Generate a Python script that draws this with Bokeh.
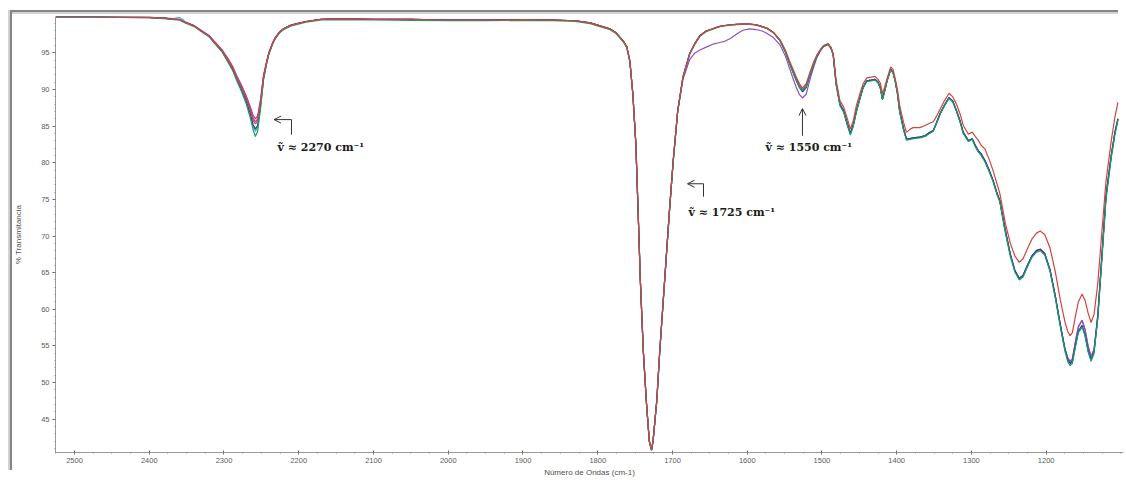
from bokeh.plotting import figure
from bokeh.layouts import column
from bokeh.models import Range1d, FixedTicker, Label, Arrow, OpenHead, InlineStyleSheet
from bokeh.embed import file_html
from bokeh.resources import INLINE

# Wavenumber grid (cm-1), shared by all spectra
wavenumber = [
    2525, 2480, 2440, 2400, 2380, 2367, 2360, 2352, 2340, 2331,
    2320, 2313, 2303, 2295, 2288, 2282, 2276, 2270, 2265, 2261,
    2258, 2255, 2251, 2247, 2243, 2240, 2235, 2231, 2225, 2220,
    2210, 2202, 2190, 2170, 2140, 2100, 2050, 2000, 1950, 1900,
    1860, 1830, 1810, 1797, 1784, 1776, 1770, 1765, 1761, 1757,
    1753, 1749, 1746, 1743, 1739, 1735, 1731, 1728, 1726, 1721,
    1717, 1712, 1708, 1704, 1699, 1693, 1686, 1677, 1670, 1663,
    1655, 1646, 1638, 1630, 1622, 1614, 1606, 1597, 1588, 1580,
    1574, 1565, 1556, 1549, 1543, 1538, 1534, 1530, 1526, 1521,
    1516, 1511, 1507, 1502, 1498, 1492, 1488, 1485, 1481, 1476,
    1471, 1466, 1462, 1458, 1454, 1449, 1445, 1440, 1434, 1429,
    1425, 1422, 1419, 1416, 1413, 1408, 1405, 1402, 1399, 1396,
    1391, 1387, 1382, 1378, 1369, 1362, 1356, 1351, 1347, 1342,
    1336, 1330, 1325, 1320, 1315, 1311, 1304, 1299, 1295, 1291,
    1287, 1282, 1276, 1271, 1266, 1262, 1255, 1248, 1242, 1236,
    1231, 1225, 1219, 1213, 1208, 1202, 1195, 1188, 1181, 1175,
    1171, 1168, 1165, 1161, 1157, 1152, 1148, 1144, 1140, 1136,
    1131, 1126, 1120, 1113, 1108, 1104,
]

# % transmittance of each sample
t_cyan = [
    99.95, 99.95, 99.9, 99.85, 99.8, 99.7, 99.9, 99.3, 98.7, 98.05,
    97.3, 96.45, 95.3, 93.95, 92.7, 91.1, 89.8, 88.2, 86.5, 84.9,
    84.3, 84.8, 87.7, 91.5, 93.6, 94.9, 96.3, 97.1, 97.9, 98.3,
    98.8, 99.0, 99.3, 99.6, 99.65, 99.6, 99.6, 99.5, 99.5, 99.55,
    99.5, 99.4, 99.1, 98.7, 98.3, 97.8, 97.1, 96.5, 95.8, 93.9,
    89.4, 82.6, 73.5, 64.0, 54.3, 47.5, 42.0, 40.8, 42.0, 47.5,
    54.3, 61.7, 67.6, 73.5, 80.3, 87.1, 91.7, 94.9, 96.3, 97.4,
    98.0, 98.3, 98.6, 98.75, 98.85, 98.9, 98.95, 98.95, 98.85, 98.6,
    98.4, 97.8, 96.7, 95.2, 93.5, 92.2, 91.2, 90.3, 89.7, 90.3,
    92.0, 93.5, 94.5, 95.4, 95.9, 96.2, 95.7, 94.8, 90.8, 88.0,
    87.1, 85.3, 84.0, 85.2, 87.1, 88.9, 90.3, 91.2, 91.3, 91.4,
    91.0, 90.3, 88.7, 89.9, 91.2, 92.8, 92.4, 91.2, 89.5, 87.1,
    84.7, 83.25, 83.3, 83.4, 83.5, 83.7, 84.15, 84.4, 85.4, 86.7,
    87.9, 88.9, 88.4, 87.1, 85.6, 84.15, 83.0, 83.3, 82.4, 81.65,
    81.2, 80.3, 78.9, 77.55, 75.9, 74.8, 70.9, 67.5, 65.3, 64.2,
    64.6, 66.0, 67.3, 68.0, 68.2, 67.6, 65.4, 61.9, 57.8, 54.6,
    53.1, 52.6, 52.9, 55.0, 57.0, 57.8, 56.5, 54.4, 53.1, 54.2,
    59.0, 66.5, 75.5, 81.0, 84.2, 86.0,
]

t_magenta = [
    99.95, 99.95, 99.9, 99.85, 99.75, 99.6, 99.55, 99.2, 98.75, 98.15,
    97.4, 96.6, 95.5, 94.3, 93.1, 91.7, 90.5, 89.1, 87.7, 86.5,
    86.0, 86.4, 88.7, 92.0, 93.8, 95.0, 96.4, 97.2, 97.95, 98.35,
    98.8, 99.0, 99.3, 99.6, 99.65, 99.6, 99.6, 99.5, 99.5, 99.55,
    99.5, 99.4, 99.1, 98.7, 98.3, 97.8, 97.1, 96.5, 95.8, 93.9,
    89.4, 82.6, 73.5, 64.0, 54.3, 47.5, 42.0, 40.8, 42.0, 47.5,
    54.3, 61.7, 67.6, 73.5, 80.3, 87.1, 91.7, 94.9, 96.3, 97.4,
    98.0, 98.3, 98.6, 98.75, 98.85, 98.9, 98.95, 98.95, 98.85, 98.6,
    98.4, 97.8, 96.7, 95.2, 93.6, 92.4, 91.4, 90.5, 90.0, 90.6,
    92.0, 93.5, 94.5, 95.4, 95.9, 96.2, 95.7, 94.8, 90.8, 88.0,
    87.1, 85.3, 84.0, 85.2, 87.1, 88.9, 90.3, 91.2, 91.3, 91.4,
    91.0, 90.3, 88.7, 89.9, 91.2, 92.8, 92.4, 91.2, 89.5, 87.1,
    84.7, 83.25, 83.3, 83.4, 83.5, 83.7, 84.15, 84.4, 85.4, 86.7,
    87.9, 88.9, 88.4, 87.1, 85.6, 84.15, 83.0, 83.3, 82.4, 81.65,
    81.2, 80.3, 78.9, 77.55, 75.9, 74.8, 70.9, 67.5, 65.3, 64.2,
    64.6, 66.0, 67.3, 68.0, 68.2, 67.6, 65.4, 61.9, 57.8, 54.6,
    53.3, 52.9, 53.2, 55.5, 57.6, 58.5, 57.2, 55.0, 53.5, 54.5,
    59.3, 66.6, 75.5, 81.0, 84.2, 86.0,
]

t_purple = [
    99.95, 99.95, 99.9, 99.85, 99.75, 99.6, 99.6, 99.2, 98.7, 98.05,
    97.35, 96.5, 95.4, 94.1, 92.9, 91.5, 90.3, 88.9, 87.4, 86.1,
    85.6, 86.0, 88.5, 91.9, 93.7, 95.0, 96.3, 97.1, 97.9, 98.3,
    98.8, 99.0, 99.3, 99.6, 99.65, 99.6, 99.6, 99.5, 99.5, 99.55,
    99.5, 99.4, 99.1, 98.7, 98.3, 97.8, 97.1, 96.5, 95.8, 93.9,
    89.4, 82.6, 73.5, 64.0, 54.3, 47.5, 42.0, 40.8, 42.0, 47.5,
    54.3, 61.7, 67.6, 73.5, 80.3, 87.0, 91.4, 94.1, 95.0, 95.4,
    95.8, 96.2, 96.4, 96.6, 97.0, 97.6, 98.1, 98.3, 98.2, 98.0,
    97.7, 97.1, 96.1, 94.6, 92.8, 91.3, 90.2, 89.3, 88.85, 89.4,
    91.4, 93.1, 94.3, 95.3, 95.9, 96.2, 95.7, 94.8, 90.8, 88.0,
    87.1, 85.3, 84.0, 85.2, 87.1, 88.9, 90.3, 91.2, 91.3, 91.4,
    91.0, 90.3, 88.7, 89.9, 91.2, 92.8, 92.4, 91.2, 89.5, 87.1,
    84.7, 83.25, 83.3, 83.4, 83.5, 83.7, 84.15, 84.4, 85.4, 86.7,
    87.9, 88.9, 88.4, 87.1, 85.6, 84.15, 83.0, 83.3, 82.4, 81.65,
    81.2, 80.3, 78.9, 77.55, 75.9, 74.8, 70.9, 67.5, 65.3, 64.2,
    64.6, 66.0, 67.3, 68.0, 68.2, 67.6, 65.4, 61.9, 57.8, 54.6,
    53.3, 52.9, 53.2, 55.5, 57.6, 58.5, 57.2, 55.0, 53.5, 54.5,
    59.0, 66.5, 75.5, 81.0, 84.2, 86.0,
]

t_navy = [
    99.95, 99.95, 99.9, 99.85, 99.75, 99.6, 99.6, 99.2, 98.7, 98.05,
    97.3, 96.45, 95.3, 93.95, 92.7, 91.2, 89.9, 88.4, 86.8, 85.2,
    84.6, 85.1, 87.9, 91.6, 93.6, 94.9, 96.3, 97.1, 97.9, 98.3,
    98.8, 99.0, 99.3, 99.6, 99.65, 99.6, 99.6, 99.5, 99.5, 99.55,
    99.5, 99.4, 99.1, 98.7, 98.3, 97.8, 97.1, 96.5, 95.8, 93.9,
    89.4, 82.6, 73.5, 64.0, 54.3, 47.5, 42.0, 40.8, 42.0, 47.5,
    54.3, 61.7, 67.6, 73.5, 80.3, 87.1, 91.7, 94.9, 96.3, 97.4,
    98.0, 98.3, 98.6, 98.75, 98.85, 98.9, 98.95, 98.95, 98.85, 98.6,
    98.4, 97.8, 96.7, 95.2, 93.5, 92.2, 91.2, 90.3, 89.7, 90.3,
    92.0, 93.5, 94.5, 95.4, 95.9, 96.2, 95.7, 94.8, 90.8, 88.0,
    87.1, 85.3, 84.0, 85.2, 87.1, 88.9, 90.3, 91.2, 91.3, 91.4,
    91.0, 90.3, 88.7, 89.9, 91.2, 92.8, 92.4, 91.2, 89.5, 87.1,
    84.7, 83.25, 83.3, 83.4, 83.5, 83.7, 84.15, 84.4, 85.4, 86.7,
    87.9, 88.9, 88.4, 87.1, 85.6, 84.15, 83.0, 83.3, 82.4, 81.65,
    81.2, 80.3, 78.9, 77.55, 75.9, 74.8, 70.9, 67.5, 65.3, 64.2,
    64.6, 66.0, 67.3, 68.0, 68.2, 67.6, 65.4, 61.9, 57.8, 54.6,
    53.1, 52.6, 52.9, 55.0, 57.0, 57.8, 56.5, 54.4, 53.1, 54.2,
    59.0, 66.5, 75.5, 81.0, 84.2, 86.0,
]

t_green = [
    99.9, 99.9, 99.85, 99.8, 99.7, 99.55, 99.5, 99.1, 98.6, 97.95,
    97.2, 96.35, 95.2, 93.8, 92.5, 91.0, 89.6, 88.0, 86.2, 84.5,
    83.6, 84.3, 87.5, 91.4, 93.5, 94.8, 96.2, 97.0, 97.8, 98.2,
    98.7, 98.9, 99.2, 99.5, 99.55, 99.5, 99.45, 99.4, 99.4, 99.45,
    99.4, 99.3, 99.0, 98.6, 98.2, 97.7, 97.0, 96.4, 95.7, 93.8,
    89.3, 82.5, 73.4, 63.9, 54.2, 47.4, 41.9, 40.7, 41.9, 47.4,
    54.2, 61.6, 67.5, 73.4, 80.2, 87.0, 91.6, 94.8, 96.2, 97.3,
    97.9, 98.25, 98.55, 98.7, 98.8, 98.85, 98.9, 98.9, 98.8, 98.55,
    98.35, 97.75, 96.65, 95.15, 93.45, 92.15, 91.15, 90.3, 89.9, 90.4,
    92.0, 93.5, 94.5, 95.4, 95.9, 96.15, 95.65, 94.7, 90.6, 87.8,
    86.9, 85.1, 83.8, 85.0, 86.9, 88.8, 90.2, 91.1, 91.2, 91.3,
    90.9, 90.2, 88.6, 89.8, 91.1, 92.7, 92.3, 91.1, 89.4, 86.9,
    84.5, 83.1, 83.2, 83.3, 83.4, 83.6, 84.0, 84.3, 85.3, 86.6,
    87.8, 88.8, 88.3, 87.0, 85.5, 84.0, 82.9, 83.2, 82.2, 81.5,
    81.0, 80.1, 78.7, 77.4, 75.7, 74.6, 70.6, 67.2, 65.1, 64.0,
    64.4, 65.8, 67.1, 67.8, 68.0, 67.4, 65.2, 61.6, 57.5, 54.3,
    52.8, 52.3, 52.6, 54.8, 56.8, 57.6, 56.3, 54.2, 52.9, 54.0,
    58.7, 66.0, 75.0, 80.6, 83.9, 85.8,
]

t_red = [
    99.95, 99.95, 99.9, 99.85, 99.75, 99.6, 99.6, 99.2, 98.7, 98.05,
    97.3, 96.5, 95.4, 94.1, 92.9, 91.4, 90.1, 88.7, 87.2, 85.8,
    85.3, 85.7, 88.3, 91.8, 93.7, 95.0, 96.3, 97.1, 97.9, 98.3,
    98.8, 99.0, 99.3, 99.6, 99.65, 99.6, 99.6, 99.5, 99.5, 99.55,
    99.5, 99.4, 99.1, 98.7, 98.3, 97.8, 97.1, 96.5, 95.8, 93.9,
    89.4, 82.6, 73.5, 64.0, 54.3, 47.5, 42.0, 40.8, 42.0, 47.5,
    54.3, 61.7, 67.6, 73.5, 80.3, 87.1, 91.7, 94.9, 96.3, 97.4,
    98.0, 98.3, 98.6, 98.75, 98.85, 98.9, 98.95, 98.95, 98.85, 98.6,
    98.4, 97.8, 96.8, 95.4, 93.8, 92.6, 91.6, 90.8, 90.2, 90.8,
    92.4, 93.8, 94.7, 95.5, 96.0, 96.3, 95.8, 94.9, 91.2, 88.5,
    87.6, 86.0, 84.6, 85.8, 87.8, 89.5, 90.8, 91.6, 91.7, 91.8,
    91.4, 90.9, 89.4, 90.4, 91.5, 93.1, 92.8, 91.5, 90.0, 87.8,
    85.6, 84.15, 84.6, 84.8, 84.8, 85.1, 85.4, 85.6, 86.3, 87.3,
    88.5, 89.5, 89.0, 88.0, 86.6, 85.1, 83.9, 84.2, 83.6, 83.1,
    82.4, 81.9, 80.4, 78.9, 77.2, 75.8, 71.9, 69.0, 67.3, 66.4,
    66.9, 68.3, 69.6, 70.4, 70.7, 70.2, 68.4, 65.2, 61.2, 58.3,
    56.9, 56.4, 56.8, 59.0, 61.0, 62.1, 61.2, 59.5, 58.2, 59.3,
    63.5, 70.0, 77.5, 83.0, 86.3, 88.25,
]

x_major = [2500, 2400, 2300, 2200, 2100, 2000, 1900, 1800, 1700, 1600, 1500, 1400, 1300, 1200]
y_major = [45, 50, 55, 60, 65, 70, 75, 80, 85, 90, 95]

spectra = [
    (t_cyan, "#4fb6de"),
    (t_magenta, "#c8338c"),
    (t_purple, "#8a4fc6"),
    (t_navy, "#2a3f98"),
    (t_green, "#17a062"),
    (t_red, "#d2443c"),
]

p = figure(
    width=1126, height=481,
    output_backend="svg", toolbar_location=None,
    x_range=Range1d(2525.4, 1096.6), y_range=Range1d(40.44, 99.98),
    min_border_left=55, min_border_right=3, min_border_top=16, min_border_bottom=29,
    background_fill_color="white", border_fill_color="white",
)
p.outline_line_color = None
p.xgrid.visible = False
p.ygrid.visible = False

for vals, color in spectra:
    p.line(wavenumber, vals, line_color=color, line_width=1.2)

# axes
p.xaxis.ticker = FixedTicker(ticks=x_major, minor_ticks=list(range(1100, 2526, 25)))
p.yaxis.ticker = FixedTicker(ticks=y_major, minor_ticks=list(range(41, 100)))
p.xaxis.axis_label = "Número de Ondas (cm-1)"
p.yaxis.axis_label = "% Transmitancia"
for ax in (p.xaxis[0], p.yaxis[0]):
    ax.axis_line_color = "#9a9a9a"
    ax.major_tick_line_color = "#666666"
    ax.minor_tick_line_color = "#8a8a8a"
    ax.major_label_text_font = "Liberation Sans"
    ax.major_label_text_font_size = "7.5px"
    ax.major_label_text_color = "#5a5a5a"
    ax.axis_label_text_font = "Liberation Sans"
    ax.axis_label_text_font_size = "8px"
    ax.axis_label_text_font_style = "normal"
    ax.axis_label_text_color = "#505050"
    ax.minor_tick_in = 0
    ax.minor_tick_out = 1
p.xaxis.major_tick_in = 2
p.xaxis.major_tick_out = 2
p.xaxis.major_label_standoff = 3
p.xaxis.axis_label_standoff = 2
p.yaxis.major_tick_in = 0
p.yaxis.major_tick_out = 3
p.yaxis.major_label_standoff = 3
p.yaxis.axis_label_standoff = 15

# band annotations
ink = "#333333"
def open_head():
    return OpenHead(size=7, line_color=ink, line_width=1)

# 2270: bent arrow
p.add_layout(Arrow(end=None, x_start=2209.7, y_start=83.84, x_end=2209.7, y_end=85.9,
                   line_color=ink, line_width=1))
p.add_layout(Arrow(end=open_head(), x_start=2209.7, y_start=85.9, x_end=2233.1, y_end=85.9,
                   line_color=ink, line_width=1))
# 1550: straight arrow
p.add_layout(Arrow(end=open_head(), x_start=1526.1, y_start=83.7, x_end=1526.1, y_end=87.4,
                   line_color=ink, line_width=1))
# 1725: bent arrow
p.add_layout(Arrow(end=None, x_start=1658.5, y_start=75.37, x_end=1658.5, y_end=77.14,
                   line_color=ink, line_width=1))
p.add_layout(Arrow(end=open_head(), x_start=1658.5, y_start=77.14, x_end=1679.9, y_end=77.14,
                   line_color=ink, line_width=1))

for x, y, txt in [
    (2228.4, 82.06, "ṽ ≈ 2270 cm⁻¹"),
    (1575.6, 82.06, "ṽ ≈ 1550 cm⁻¹"),
    (1678.6, 73.18, "ṽ ≈ 1725 cm⁻¹"),
]:
    p.add_layout(Label(x=x, y=y, text=txt, text_font="DejaVu Serif",
                       text_font_style="bold", text_font_size="11px",
                       text_color="#1a1a1a", text_baseline="middle", text_align="left"))

# grey window frame along the top and left edges, laid over the chart margins
frame_css = InlineStyleSheet(css="""
:host { position: relative; }
:host::before {
  content: ""; position: absolute; left: 8px; top: 10px; width: 1110px; height: 2px;
  background: #858585; border-bottom: 2px solid #d2d2d2; z-index: 10; pointer-events: none;
}
:host::after {
  content: ""; position: absolute; left: 8px; top: 10px; width: 2px; height: 460px;
  background: #d2d2d2; border-right: 2px solid #858585; z-index: 10; pointer-events: none;
}
""")

layout = column(p, width=1126, height=481, stylesheets=[frame_css])

open("out.html", "w").write(file_html(layout, INLINE))
